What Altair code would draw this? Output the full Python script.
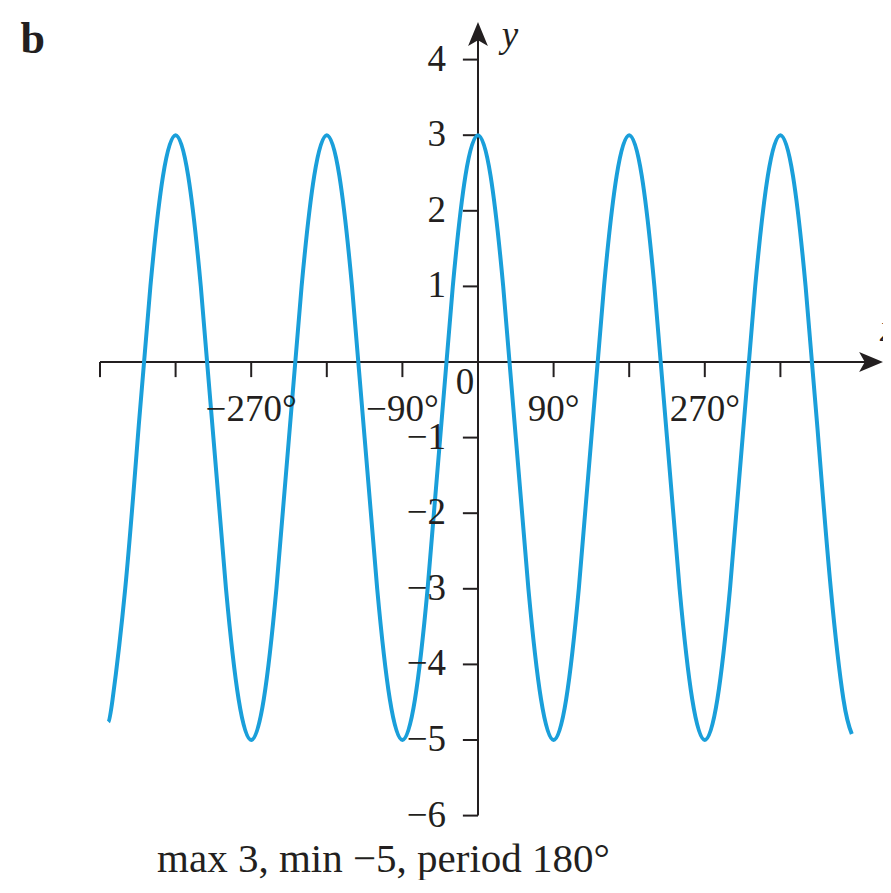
import altair as alt
import pandas as pd

# ---- data ----
curve_x = [-440, -435, -420, -405, -390, -375, -360, -345, -330, -315, -300, -285,
           -270, -255, -240, -225, -210, -195, -180, -165, -150, -135, -120, -105,
           -90, -75, -60, -45, -30, -15, 0, 15, 30, 45, 60, 75, 90, 105, 120, 135,
           150, 165, 180, 195, 210, 225, 240, 255, 270, 285, 300, 315, 330, 345,
           360, 375, 390, 405, 420, 435, 445]
curve_y = [-4.76, -4.46, -3, -1, 1, 2.46, 3, 2.46, 1, -1, -3, -4.46,
           -5, -4.46, -3, -1, 1, 2.46, 3, 2.46, 1, -1, -3, -4.46,
           -5, -4.46, -3, -1, 1, 2.46, 3, 2.46, 1, -1, -3, -4.46, -5, -4.46, -3, -1,
           1, 2.46, 3, 2.46, 1, -1, -3, -4.46, -5, -4.46, -3, -1, 1, 2.46,
           3, 2.46, 1, -1, -3, -4.46, -4.92]

x_ticks = [-450, -360, -270, -180, -90, 90, 180, 270, 360]
x_label_vals = [-270, -90, 90, 270]
x_label_text = ["\u2212270\u00b0", "\u221290\u00b0", "90\u00b0", "270\u00b0"]
y_ticks = [4, 3, 2, 1, -1, -2, -3, -4, -5, -6]
y_label_text = ["4", "3", "2", "1", "\u22121", "\u22122", "\u22123", "\u22124", "\u22125", "\u22126"]

caption = "max 3, min \u22125, period 180\u00b0"
panel_letter = "b"

# ---- layout ----
W, H = 875, 872
XD = [-559.52, 482.14]
YD = [-6.8519, 4.6825]
xs = alt.Scale(domain=XD, nice=False, zero=False)
ys = alt.Scale(domain=YD, nice=False, zero=False)
INK = "#231f20"
BLUE = "#1a9fda"
FONT = "Liberation Serif"

def X(f="x"):
    return alt.X(f"{f}:Q", scale=xs, axis=None)

def Y(f="y"):
    return alt.Y(f"{f}:Q", scale=ys, axis=None)

curve = alt.Chart(pd.DataFrame({"x": curve_x, "y": curve_y})).mark_line(
    color=BLUE, strokeWidth=4, interpolate="natural"
).encode(x=X(), y=Y())

xaxis = alt.Chart(pd.DataFrame({"x": [-450], "x2": [466], "y": [0]})).mark_rule(
    color=INK, strokeWidth=2
).encode(x=X(), x2="x2:Q", y=Y())

yaxis = alt.Chart(pd.DataFrame({"x": [0], "y": [-6], "y2": [4.3]})).mark_rule(
    color=INK, strokeWidth=2
).encode(x=X(), y=Y(), y2="y2:Q")

xt = alt.Chart(pd.DataFrame({"x": x_ticks, "y": [0] * len(x_ticks),
                             "y2": [-0.2] * len(x_ticks)})).mark_rule(
    color=INK, strokeWidth=2
).encode(x=X(), y=Y(), y2="y2:Q")

yt = alt.Chart(pd.DataFrame({"y": y_ticks, "x": [0] * len(y_ticks),
                             "x2": [-18] * len(y_ticks)})).mark_rule(
    color=INK, strokeWidth=2
).encode(x=X(), x2="x2:Q", y=Y())

up_arrow = alt.Chart(pd.DataFrame({"x": [0], "y": [4.311]})).mark_point(
    shape="M0,-1 L0.7,0.7 L0,0.3 L-0.7,0.7 Z", filled=True, size=800,
    color=INK, opacity=1, strokeWidth=0
).encode(x=X(), y=Y())

right_arrow = alt.Chart(pd.DataFrame({"x": [465.5], "y": [0]})).mark_point(
    shape="M1,0 L-0.7,0.7 L-0.3,0 L-0.7,-0.7 Z", filled=True, size=800,
    color=INK, opacity=1, strokeWidth=0
).encode(x=X(), y=Y())

xlab = alt.Chart(pd.DataFrame({"x": x_label_vals, "y": [-0.64] * 4,
                               "t": x_label_text})).mark_text(
    font=FONT, fontSize=37, color=INK, baseline="middle", align="center"
).encode(x=X(), y=Y(), text="t:N")

zero_lab = alt.Chart(pd.DataFrame({"x": [-15.5], "y": [-0.28], "t": ["0"]})).mark_text(
    font=FONT, fontSize=37, color=INK, baseline="middle", align="center"
).encode(x=X(), y=Y(), text="t:N")

ylab = alt.Chart(pd.DataFrame({"y": y_ticks, "x": [-38] * len(y_ticks),
                               "t": y_label_text})).mark_text(
    font=FONT, fontSize=37, color=INK, baseline="middle", align="right"
).encode(x=X(), y=Y(), text="t:N")

ylett = alt.Chart(pd.DataFrame({"x": [38], "y": [4.31], "t": ["y"]})).mark_text(
    font=FONT, fontSize=37, fontStyle="italic", color=INK, baseline="middle", align="center"
).encode(x=X(), y=Y(), text="t:N")

xlett = alt.Chart(pd.DataFrame({"x": [479], "y": [0.42], "t": ["x"]})).mark_text(
    font=FONT, fontSize=37, fontStyle="italic", color=INK, baseline="middle", align="left"
).encode(x=X(), y=Y(), text="t:N")

blab = alt.Chart(pd.DataFrame({"x": [-530], "y": [4.26], "t": [panel_letter]})).mark_text(
    font=FONT, fontSize=44, fontWeight="bold", color=INK, baseline="middle", align="center"
).encode(x=X(), y=Y(), text="t:N")

cap = alt.Chart(pd.DataFrame({"x": [-112.5], "y": [-6.75], "t": [caption]})).mark_text(
    font=FONT, fontSize=41, color=INK, baseline="alphabetic", align="center"
).encode(x=X(), y=Y(), text="t:N")

chart = alt.layer(
    xaxis, yaxis, xt, yt, up_arrow, right_arrow, curve,
    xlab, zero_lab, ylab, ylett, xlett, blab, cap
).properties(
    width=W, height=H, padding=0,
    autosize=alt.AutoSizeParams(type="none")
).configure_view(stroke=None)

chart.save("out.html", embed_options={"renderer": "svg", "actions": False})
